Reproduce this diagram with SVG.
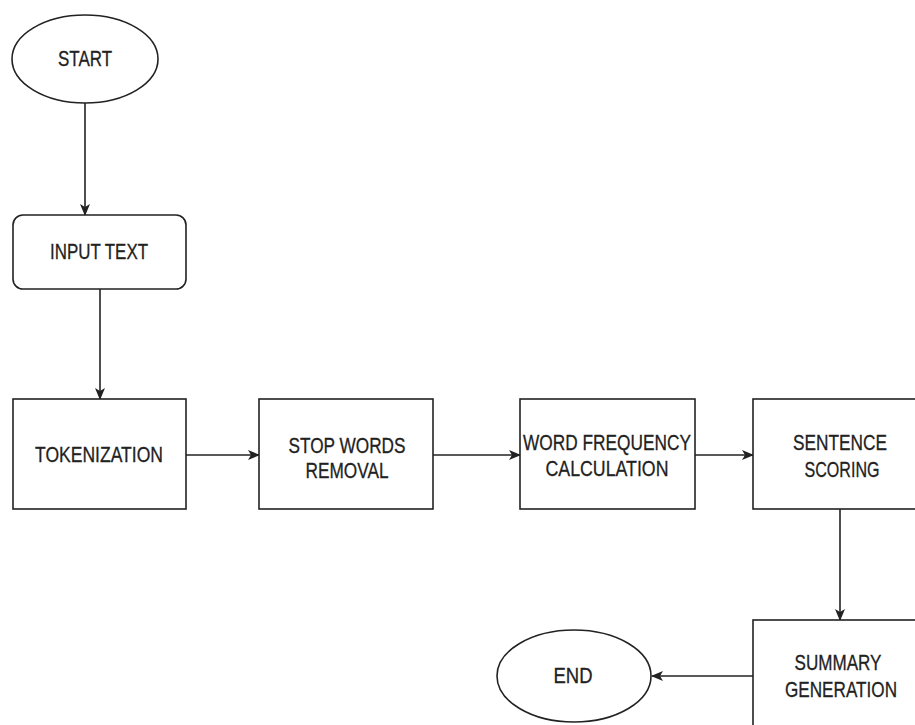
<svg xmlns="http://www.w3.org/2000/svg" width="915" height="725" viewBox="0 0 915 725">
<style>
.shape{fill:#fff;stroke:#222;stroke-width:1.6}
.lbl{font-family:"Liberation Sans",Arial,sans-serif;font-size:22px;fill:#222;stroke:#222;stroke-width:0.3;text-anchor:middle}
.conn{stroke:#222;stroke-width:1.6;fill:none;marker-end:url(#arr)}
</style>
<defs>
<marker id="arr" viewBox="0 0 12 10" refX="11" refY="5" markerWidth="12" markerHeight="10" markerUnits="userSpaceOnUse" orient="auto">
<path d="M0,0 L12,5 L0,10 L3,5 Z" fill="#222"/>
</marker>
</defs>
<rect width="915" height="725" fill="#fff"/>
<g id="connectors">
<line class="conn" x1="85" y1="103" x2="85" y2="215"/>
<line class="conn" x1="100" y1="289" x2="100" y2="399"/>
<line class="conn" x1="186" y1="455" x2="259" y2="455"/>
<line class="conn" x1="433" y1="455" x2="520" y2="455"/>
<line class="conn" x1="695" y1="455" x2="753" y2="455"/>
<line class="conn" x1="840" y1="509" x2="840" y2="620"/>
<line class="conn" x1="753" y1="676" x2="652" y2="676"/>
</g>
<g id="start">
<ellipse class="shape" cx="85" cy="59" rx="73" ry="44"/>
<text class="lbl" x="85" y="66" textLength="54" lengthAdjust="spacingAndGlyphs">START</text>
</g>
<g id="input-text">
<rect class="shape" x="13" y="215" width="173" height="74" rx="10"/>
<text class="lbl" x="99" y="259" textLength="98" lengthAdjust="spacingAndGlyphs">INPUT TEXT</text>
</g>
<g id="tokenization">
<rect class="shape" x="13" y="399" width="173" height="110"/>
<text class="lbl" x="99" y="462" textLength="128" lengthAdjust="spacingAndGlyphs">TOKENIZATION</text>
</g>
<g id="stop-words">
<rect class="shape" x="259" y="399" width="174" height="110"/>
<text class="lbl" x="347" y="453" textLength="117" lengthAdjust="spacingAndGlyphs">STOP WORDS</text>
<text class="lbl" x="347" y="478" textLength="83" lengthAdjust="spacingAndGlyphs">REMOVAL</text>
</g>
<g id="word-frequency">
<rect class="shape" x="520" y="399" width="175" height="110"/>
<text class="lbl" x="607" y="450" textLength="168" lengthAdjust="spacingAndGlyphs">WORD FREQUENCY</text>
<text class="lbl" x="607" y="476" textLength="123" lengthAdjust="spacingAndGlyphs">CALCULATION</text>
</g>
<g id="sentence-scoring">
<rect class="shape" x="753" y="399" width="174" height="110"/>
<text class="lbl" x="840" y="450" textLength="94" lengthAdjust="spacingAndGlyphs">SENTENCE</text>
<text class="lbl" x="842" y="477" textLength="75" lengthAdjust="spacingAndGlyphs">SCORING</text>
</g>
<g id="summary-generation">
<rect class="shape" x="753" y="620" width="174" height="110"/>
<text class="lbl" x="838" y="670" textLength="87" lengthAdjust="spacingAndGlyphs">SUMMARY</text>
<text class="lbl" x="841" y="697" textLength="112" lengthAdjust="spacingAndGlyphs">GENERATION</text>
</g>
<g id="end">
<ellipse class="shape" cx="574" cy="676" rx="77" ry="46"/>
<text class="lbl" x="573" y="683" textLength="39" lengthAdjust="spacingAndGlyphs">END</text>
</g>
</svg>
